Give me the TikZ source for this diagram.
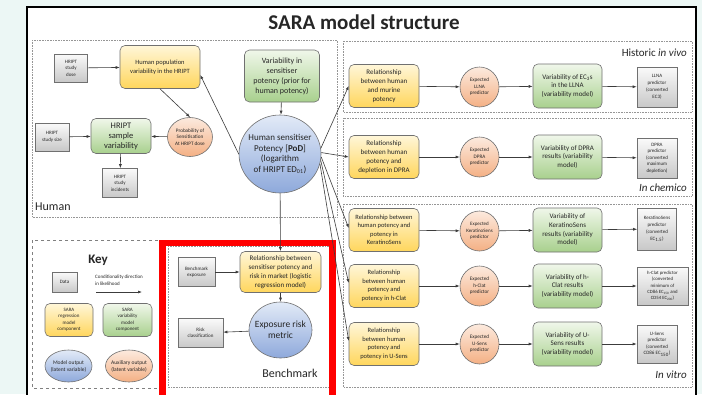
\documentclass[tikz,border=0pt]{standalone}
\usepackage{fontspec}
\setmainfont{Carlito}
\usetikzlibrary{arrows.meta,shapes.geometric,calc}
\definecolor{bgmint}{RGB}{236,247,245}
\definecolor{yelA}{RGB}{255,246,216}
\definecolor{yelB}{RGB}{255,214,92}
\definecolor{grnA}{RGB}{240,247,234}
\definecolor{grnB}{RGB}{168,208,141}
\definecolor{bluA}{RGB}{226,234,247}
\definecolor{bluB}{RGB}{142,169,219}
\definecolor{orgA}{RGB}{252,234,222}
\definecolor{orgB}{RGB}{244,176,132}
\definecolor{gryA}{RGB}{250,250,250}
\definecolor{gryB}{RGB}{200,200,200}
\definecolor{edge}{RGB}{112,112,112}
\definecolor{arrc}{RGB}{60,60,60}
\definecolor{txtc}{RGB}{38,38,38}
\definecolor{panelc}{RGB}{150,150,150}
\newcommand{\fz}[2]{\fontsize{#1}{#2}\selectfont}
\newcommand{\mk}[8]{\node[#1,minimum width=#5pt,minimum height=#6pt,inner sep=0pt] (#2) at (#3,#4) {};
  \node[txtn,font={#7}] (#2t) at (#2.center) {#8};}
\begin{document}
\begin{tikzpicture}[x=1pt,y=-1pt,
  base/.style={draw=edge,line width=0.6pt},
  datab/.style={base,top color=gryA,bottom color=gryB},
  regb/.style={base,rounded corners=5pt,top color=yelA,bottom color=yelB},
  varb/.style={base,rounded corners=5pt,top color=grnA,bottom color=grnB},
  outc/.style={base,ellipse,top color=bluA,bottom color=bluB},
  auxc/.style={base,ellipse,top color=orgA,bottom color=orgB},
  txtn/.style={align=center,inner sep=0pt,text=txtc},
  arr/.style={-{Latex[length=4pt,width=3pt]},draw=arrc,line width=0.6pt},
  panel/.style={draw=panelc,densely dotted,line width=0.6pt},
  keypanel/.style={draw=gray,dashed,line width=0.6pt},
  lbl/.style={inner sep=0pt,text=txtc}]
\useasboundingbox (0,0) rectangle (702,394);
\fill[bgmint] (0,0) rectangle (702,394);
\fill[white] (27,7) rectangle (696,402);
\draw[line width=1.5pt] (27,7) rectangle (696,402);
\node[lbl,font=\fz{21}{24}\bfseries] (title) at (364,22) {SARA model structure};
% panels
\draw[panel] (32,40) rectangle (337,217);
\draw[panel] (343,41) rectangle (692,112);
\draw[panel] (343,118) rectangle (692,196);
\draw[panel] (343,204) rectangle (692,387);
\draw[keypanel] (32,240) rectangle (160,388);
\draw[panel] (168,246) rectangle (329,387);
\node[lbl,font=\fz{12}{14},anchor=west] (lhuman) at (35,207) {Human};
\node[lbl,font=\fz{11}{13},anchor=east] (lvivo) at (687,53) {Historic \textit{in vivo}};
\node[lbl,font=\fz{11}{13},anchor=east] (lchem) at (687,188) {\textit{In chemico}};
\node[lbl,font=\fz{11}{13},anchor=east] (lvitro) at (687,375) {\textit{In vitro}};
% Human panel
\mk{datab}{dose}{71}{68}{33}{28}{\fz{5}{6.5}}{HRIPT\\study\\dose}
\mk{regb}{hpop}{160}{67}{80}{43}{\fz{6.5}{9}}{Human population\\variability in the HRIPT}
\mk{varb}{vsens}{282}{76}{75}{52}{\fz{8}{10}}{Variability in\\sensitiser\\potency (prior for\\human potency)}
\mk{datab}{size}{52}{137}{34}{28}{\fz{5}{6.5}}{HRIPT\\study size}
\mk{varb}{svar}{121}{136}{60}{35}{\fz{8.5}{10}}{HRIPT\\sample\\variability}
\mk{auxc}{prob}{190}{137}{45}{39}{\fz{5.2}{6.5}}{Probability of\\Sensitisation\\At HRIPT dose}
\mk{datab}{incid}{120}{183}{35}{29}{\fz{5}{6.5}}{HRIPT\\study\\incidents}
\mk{outc}{pod}{280}{154}{82}{78}{\fz{9}{10.8}}{Human sensitiser\\Potency [\textbf{PoD}]\\(logarithm\\of HRIPT ED\textsubscript{01})}
% rows
\mk{regb}{rA}{384}{86}{70}{43}{\fz{7}{9}}{Relationship\\between human\\and murine\\potency}
\mk{auxc}{eA}{479.5}{87}{39}{40}{\fz{5.2}{6.4}}{Expected\\LLNA\\predictor}
\mk{varb}{vA}{567.5}{86}{69}{44}{\fz{7}{8.7}}{Variability of EC\textsubscript{3}s\\in the LLNA\\(variability model)}
\mk{datab}{pA}{657}{87}{40}{40}{\fz{5}{7}}{LLNA\\predictor\\(converted\\EC3)}
\mk{regb}{rB}{384}{157}{70}{43}{\fz{7}{9}}{Relationship\\between human\\potency and\\depletion in DPRA}
\mk{auxc}{eB}{479.5}{157}{39}{40}{\fz{5.2}{6.4}}{Expected\\DPRA\\predictor}
\mk{varb}{vB}{567.5}{157}{69}{44}{\fz{7}{8.7}}{Variability of DPRA\\results (variability\\model)}
\mk{datab}{pB}{657}{158}{40}{40}{\fz{5}{6.5}}{DPRA\\predictor\\(converted\\maximum\\depletion)}
\mk{regb}{rC}{384}{230}{70}{43}{\fz{6.5}{8.5}}{Relationship between\\human potency and\\potency in\\KeratinoSens}
\mk{auxc}{eC}{479.5}{231}{39}{40}{\fz{5}{6.4}}{Expected\\KeratinoSens\\predictor}
\mk{varb}{vC}{567.5}{230}{69}{44}{\fz{7}{8.7}}{Variability of\\KeratinoSens\\results (variability\\model)}
\mk{datab}{pC}{657}{229}{39}{42}{\fz{5}{6.8}}{KeratinoSens\\predictor\\(converted\\EC\textsubscript{1.5})}
\mk{regb}{rD}{384}{286}{70}{43}{\fz{6.5}{8.5}}{Relationship\\between human\\potency and\\potency in h-Clat}
\mk{auxc}{eD}{479.5}{286}{39}{40}{\fz{5.2}{6.4}}{Expected\\h-Clat\\predictor}
\mk{varb}{vD}{567.5}{286}{69}{44}{\fz{7}{8.7}}{Variability of h-\\Clat results\\(variability model)}
\mk{datab}{pD}{662.5}{286}{51}{38}{\fz{4.8}{6.2}}{h-Clat predictor\\(converted\\minimum of\\CD86 EC\textsubscript{150} and\\CD54 EC\textsubscript{200})}
\mk{regb}{rE}{384}{344}{70}{43}{\fz{6.5}{8.5}}{Relationship\\between human\\potency and\\potency in U-Sens}
\mk{auxc}{eE}{479.5}{344}{39}{40}{\fz{5.2}{6.4}}{Expected\\U-Sens\\predictor}
\mk{varb}{vE}{567.5}{344}{69}{44}{\fz{7}{8.7}}{Variability of U-\\Sens results\\(variability model)}
\mk{datab}{pE}{657}{344}{40}{38}{\fz{5}{6.5}}{U-Sens\\predictor\\(converted\\CD86 EC\textsubscript{150})}
% key
\node[lbl,font=\fz{13}{15}\bfseries] (keyt) at (98,260) {Key};
\mk{datab}{kdata}{64.5}{282}{25}{20}{\fz{5}{6}}{Data}
\node[lbl,font=\fz{5}{6.8},align=left,anchor=west] (kcond) at (95,280) {Conditionality direction\\in likelihood};
\coordinate (ka) at (96,292);
\coordinate (kb) at (142,292);
\mk{regb}{kreg}{69}{320}{48}{33}{\fz{5}{6.5}}{SARA\\regression\\model\\component}
\mk{varb}{kvar}{127.5}{320}{49}{33}{\fz{5}{6.5}}{SARA\\variability\\model\\component}
\mk{outc}{kout}{68.5}{366}{47}{32}{\fz{5.5}{7}}{Model output\\(latent variable)}
\mk{auxc}{kaux}{129}{366}{47}{32}{\fz{5.5}{7}}{Auxiliary output\\(latent variable)}
% benchmark
\mk{datab}{bexp}{196.5}{272}{37}{29}{\fz{5}{6.5}}{Benchmark\\exposure}
\mk{regb}{brel}{280.5}{272}{81}{41}{\fz{7}{9}}{Relationship between\\sensitiser potency and\\risk in market (logistic\\regression model)}
\mk{outc}{erm}{280.5}{330}{63}{56}{\fz{9.5}{10.7}}{Exposure risk\\metric}
\mk{datab}{rcls}{200.5}{333}{45}{29}{\fz{5}{6.5}}{Risk\\classification}
\node[lbl,font=\fz{12}{14}] (lbench) at (290,373) {Benchmark};
\draw[red,line width=6.5pt] (162.5,402) -- (162.5,243) -- (332.5,243) -- (332.5,402);
% arrows
\draw[arr] (dose) -- (hpop);
\draw[arr] (hpop.south) -- (prob.north);
\draw[arr] (pod.west) -- ([yshift=-8pt]hpop.east);
\draw[arr] (vsens) -- (pod);
\draw[arr] (size) -- (svar);
\draw[arr] (prob) -- (svar);
\draw[arr] (svar) -- (incid);
\draw[arr] (pod.8) -- (rA.west);
\draw[arr] (pod.2) -- (rB.west);
\draw[arr] (pod.-4) -- ([yshift=2pt]rC.west);
\draw[arr] (pod.-9) -- ([yshift=3pt]rD.west);
\draw[arr] (pod.-14) -- ([yshift=3pt]rE.west);
\foreach \r in {A,B,C,D,E}{
  \draw[arr] (r\r) -- (e\r);
  \draw[arr] (e\r) -- (v\r);
  \draw[arr] (v\r) -- (p\r);
}
\draw[arr] (pod) -- (brel);
\draw[arr] (bexp) -- (brel);
\draw[arr] (brel) -- (erm);
\draw[arr] (erm) -- (rcls);
\draw[arr] (ka) -- (kb);
\end{tikzpicture}
\end{document}
